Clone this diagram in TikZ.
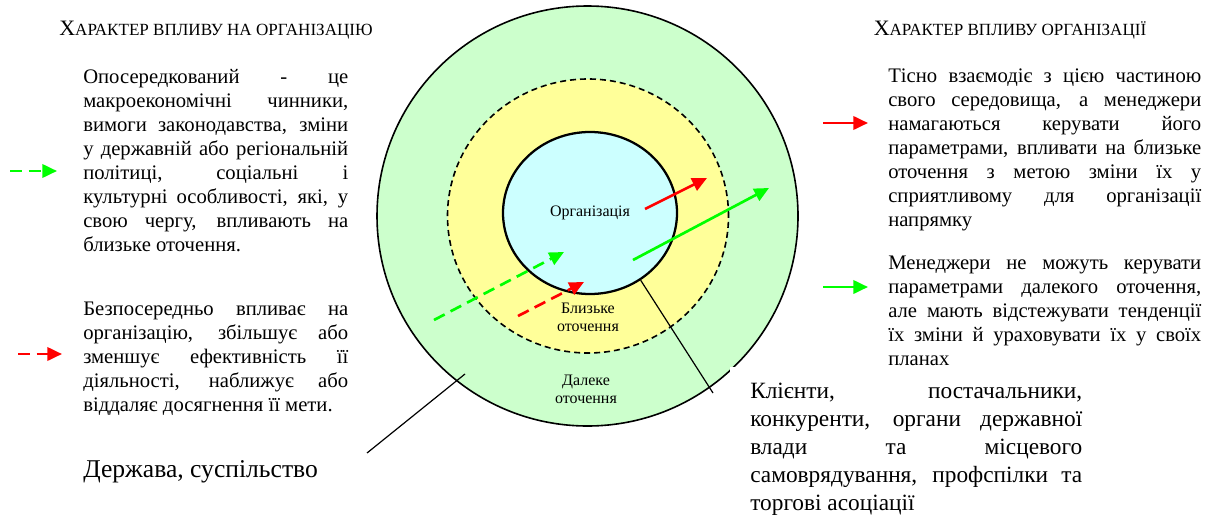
\documentclass[tikz,border=0pt]{standalone}
\usepackage{fontspec}
\setmainfont{Liberation Serif}
\usetikzlibrary{arrows.meta,shapes.geometric,positioning}
\definecolor{farfill}{RGB}{204,255,204}
\definecolor{nearfill}{RGB}{255,255,153}
\definecolor{orgfill}{RGB}{204,255,255}
\definecolor{infgreen}{RGB}{0,255,0}
\definecolor{infred}{RGB}{255,0,0}
\hyphenpenalty=10000
\newcommand{\pxu}[0]{0.75pt}
\newcommand{\caphead}[1]{{\fontsize{16.5}{19}\selectfont Х}{\fontsize{12.8}{15}\selectfont #1}}

\begin{document}
\begin{tikzpicture}[x=0.75pt,y=-0.75pt]
\tikzstyle{ring}=[ellipse,draw,inner sep=0pt]
\tikzstyle{zone}=[align=center,inner sep=0pt,font=\fontsize{12}{13.5}\selectfont]
\tikzstyle{para}=[anchor=base west,inner sep=0pt,align=justify,font=\fontsize{15.5}{18}\selectfont]
\tikzstyle{influence}=[-{Triangle[length=11pt,width=10pt]},line width=2pt]
\tikzstyle{indirect}=[influence,dash pattern=on 9pt off 5pt]

\useasboundingbox (0,0) rectangle (1212,514);

% environment rings
\node[ring,fill=farfill,line width=1.2pt,minimum width=421*\pxu,minimum height=420*\pxu] (far) at (587.5,216) {};
\node[ring,fill=nearfill,line width=1.2pt,dash pattern=on 4.5pt off 3pt,minimum width=281*\pxu,minimum height=274*\pxu] (near) at (588,216) {};
\node[ring,fill=orgfill,line width=1.7pt,minimum width=174*\pxu,minimum height=162*\pxu,font=\fontsize{12}{13.5}\selectfont] (org) at (590,213) {Організація};
\node[zone] (nearlbl) at (588,317.5) {Близьке\\оточення};
\node[zone] (farlbl) at (586,389) {Далеке\\оточення};

% headings
\node[anchor=base,inner sep=0pt] (intitle) at (216,36) {\caphead{АРАКТЕР ВПЛИВУ НА ОРГАНІЗАЦІЮ}};
\node[anchor=base,inner sep=0pt] (outtitle) at (1010,36) {\caphead{АРАКТЕР ВПЛИВУ ОРГАНІЗАЦІЇ}};

% left column
\node[para,text width=198.75pt] (indirtext) at (83,83) {Опосередкований - це\linebreak
  макроекономічні чинники,\linebreak вимоги законодавства, зміни\linebreak
  у державній або регіональній\linebreak політиці, соціальні і\linebreak
  культурні особливості, які, у\linebreak свою чергу, впливають на\linebreak
  близьке оточення.};
\node[para,text width=198.75pt] (dirtext) at (83,315) {Безпосередньо впливає на\linebreak
  організацію, збільшує або\linebreak зменшує ефективність її\linebreak
  діяльності, наближує або\linebreak віддаляє досягнення її мети.};
\node[anchor=base west,inner sep=0pt,font=\fontsize{19.2}{22}\selectfont] (society) at (83,477) {Держава, суспільство};

% right column
\node[para,text width=234.75pt] (neartext) at (888,82) {Тісно взаємодіє з цією частиною\linebreak
  свого середовища, а менеджери\linebreak намагаються керувати його\linebreak
  параметрами, впливати на близьке\linebreak оточення з метою зміни їх у\linebreak
  сприятливому для організації\linebreak напрямку};
\node[para,text width=234.75pt] (fartext) at (888,269) {Менеджери не можуть керувати\linebreak
  параметрами далекого оточення,\linebreak але мають відстежувати тенденції\linebreak
  їх зміни й ураховувати їх у своїх\linebreak планах};
\node[para,text width=249pt,fill=white,inner xsep=15pt,inner ysep=12pt,
  font=\fontsize{17.5}{21}\selectfont] (nearlist) at (730,398) {Клієнти, постачальники,\linebreak
  конкуренти, органи державної\linebreak влади та місцевого\linebreak
  самоврядування, профспілки та\linebreak торгові асоціації};

% pointer lines
\coordinate (societyend) at (367,453);
\coordinate (farpoint) at (465,374);
\coordinate (listend) at (713,393);
\draw[line width=0.9pt] (societyend) -- (farpoint);
\draw[line width=0.9pt] (org.-53) -- (listend);

% influence arrows in the rings
\coordinate (r1) at (645,209);
\coordinate (r2) at (707,178);
\coordinate (g1) at (633,260);
\coordinate (g2) at (769,188);
\coordinate (gd1) at (434,320);
\coordinate (gd2) at (564,252);
\coordinate (rd1) at (518,316);
\coordinate (rd2) at (584,282);
\draw[influence,infred] (r1) -- (r2);
\draw[influence,infgreen] (g1) -- (g2);
\draw[indirect,infgreen] (gd1) -- (gd2);
\draw[indirect,infred] (rd1) -- (rd2);

% legend arrows
\coordinate (lgd1) at (10,171);
\coordinate (lgd2) at (57,171);
\coordinate (lrd1) at (18,354);
\coordinate (lrd2) at (62,354);
\coordinate (lr1) at (823,123);
\coordinate (lr2) at (868,123);
\coordinate (lg1) at (823,287);
\coordinate (lg2) at (868,287);
\draw[indirect,infgreen] (lgd1) -- (lgd2);
\draw[indirect,infred] (lrd1) -- (lrd2);
\draw[influence,infred] (lr1) -- (lr2);
\draw[influence,infgreen] (lg1) -- (lg2);
\end{tikzpicture}
\end{document}
